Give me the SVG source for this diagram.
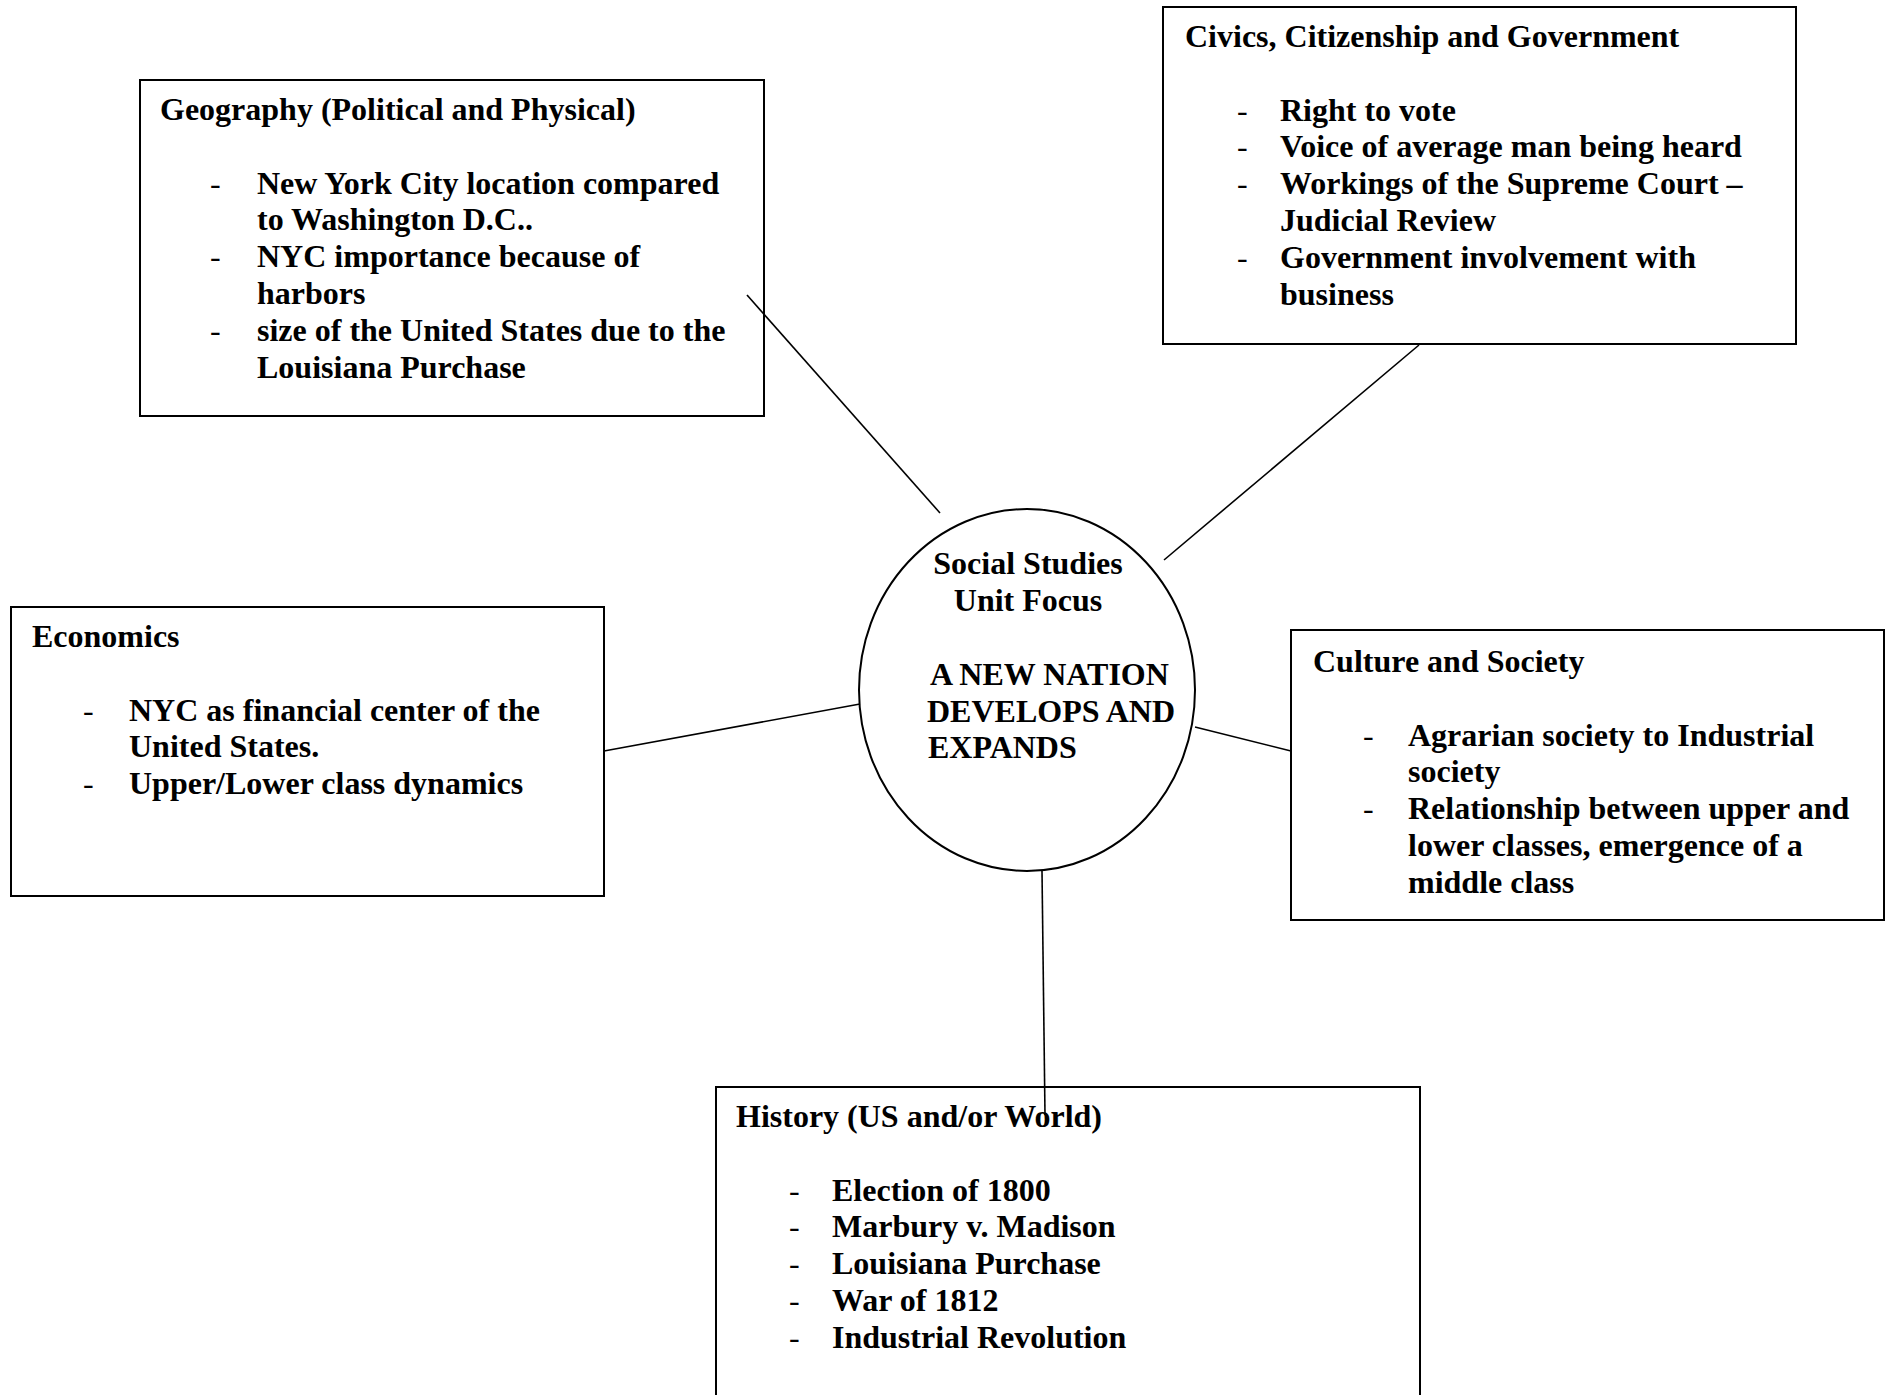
<svg xmlns="http://www.w3.org/2000/svg" width="1890" height="1395" viewBox="0 0 1890 1395">
<style>
text{font-family:"Liberation Serif","Times New Roman",serif;font-weight:bold;font-size:32px;fill:#000}
text.d{font-weight:normal}
.box{fill:#fff;stroke:#000;stroke-width:2}
.conn line{stroke:#000;stroke-width:1.6}
.mid{text-anchor:middle}
</style>
<rect width="1890" height="1395" fill="#fff"/>
<g id="geography">
<rect class="box" x="140" y="80" width="624" height="336"/>
<text x="160" y="120">Geography (Political and Physical)</text>
<text class="d" x="210" y="193.6">-</text><text x="257" y="193.6">New York City location compared</text>
<text x="257" y="230.4">to Washington D.C..</text>
<text class="d" x="210" y="267.2">-</text><text x="257" y="267.2">NYC importance because of</text>
<text x="257" y="304">harbors</text>
<text class="d" x="210" y="340.8">-</text><text x="257" y="340.8">size of the United States due to the</text>
<text x="257" y="377.6">Louisiana Purchase</text>
</g>
<g id="civics">
<rect class="box" x="1163" y="7" width="633" height="337"/>
<text x="1185" y="47">Civics, Citizenship and Government</text>
<text class="d" x="1237" y="120.6">-</text><text x="1280" y="120.6">Right to vote</text>
<text class="d" x="1237" y="157.4">-</text><text x="1280" y="157.4">Voice of average man being heard</text>
<text class="d" x="1237" y="194.2">-</text><text x="1280" y="194.2">Workings of the Supreme Court –</text>
<text x="1280" y="231">Judicial Review</text>
<text class="d" x="1237" y="267.8">-</text><text x="1280" y="267.8">Government involvement with</text>
<text x="1280" y="304.6">business</text>
</g>
<g id="economics">
<rect class="box" x="11" y="607" width="593" height="289"/>
<text x="32" y="647">Economics</text>
<text class="d" x="83" y="720.6">-</text><text x="129" y="720.6">NYC as financial center of the</text>
<text x="129" y="757.4">United States.</text>
<text class="d" x="83" y="794.2">-</text><text x="129" y="794.2">Upper/Lower class dynamics</text>
</g>
<g id="culture">
<rect class="box" x="1291" y="630" width="593" height="290"/>
<text x="1313" y="672">Culture and Society</text>
<text class="d" x="1363" y="745.6">-</text><text x="1408" y="745.6">Agrarian society to Industrial</text>
<text x="1408" y="782.4">society</text>
<text class="d" x="1363" y="819.2">-</text><text x="1408" y="819.2">Relationship between upper and</text>
<text x="1408" y="856">lower classes, emergence of a</text>
<text x="1408" y="892.8">middle class</text>
</g>
<g id="history">
<rect class="box" x="716" y="1087" width="704" height="330"/>
<text x="736" y="1127">History (US and/or World)</text>
<text class="d" x="789" y="1200.6">-</text><text x="832" y="1200.6">Election of 1800</text>
<text class="d" x="789" y="1237.4">-</text><text x="832" y="1237.4">Marbury v. Madison</text>
<text class="d" x="789" y="1274.2">-</text><text x="832" y="1274.2">Louisiana Purchase</text>
<text class="d" x="789" y="1311">-</text><text x="832" y="1311">War of 1812</text>
<text class="d" x="789" y="1347.8">-</text><text x="832" y="1347.8">Industrial Revolution</text>
</g>
<g id="center">
<ellipse class="box" cx="1027" cy="690" rx="168" ry="181"/>
<text class="mid" x="1028" y="574">Social Studies</text>
<text class="mid" x="1028" y="611">Unit Focus</text>
<text x="930" y="685">A NEW NATION</text>
<text x="927" y="722">DEVELOPS AND</text>
<text x="928" y="758">EXPANDS</text>
</g>
<g class="conn" id="connectors">
<line x1="747" y1="295" x2="940" y2="513"/>
<line x1="1419" y1="345" x2="1164" y2="560"/>
<line x1="604" y1="751" x2="860" y2="704"/>
<line x1="1195" y1="727" x2="1291" y2="751"/>
<line x1="1042" y1="871" x2="1045" y2="1115"/>
</g>
</svg>
